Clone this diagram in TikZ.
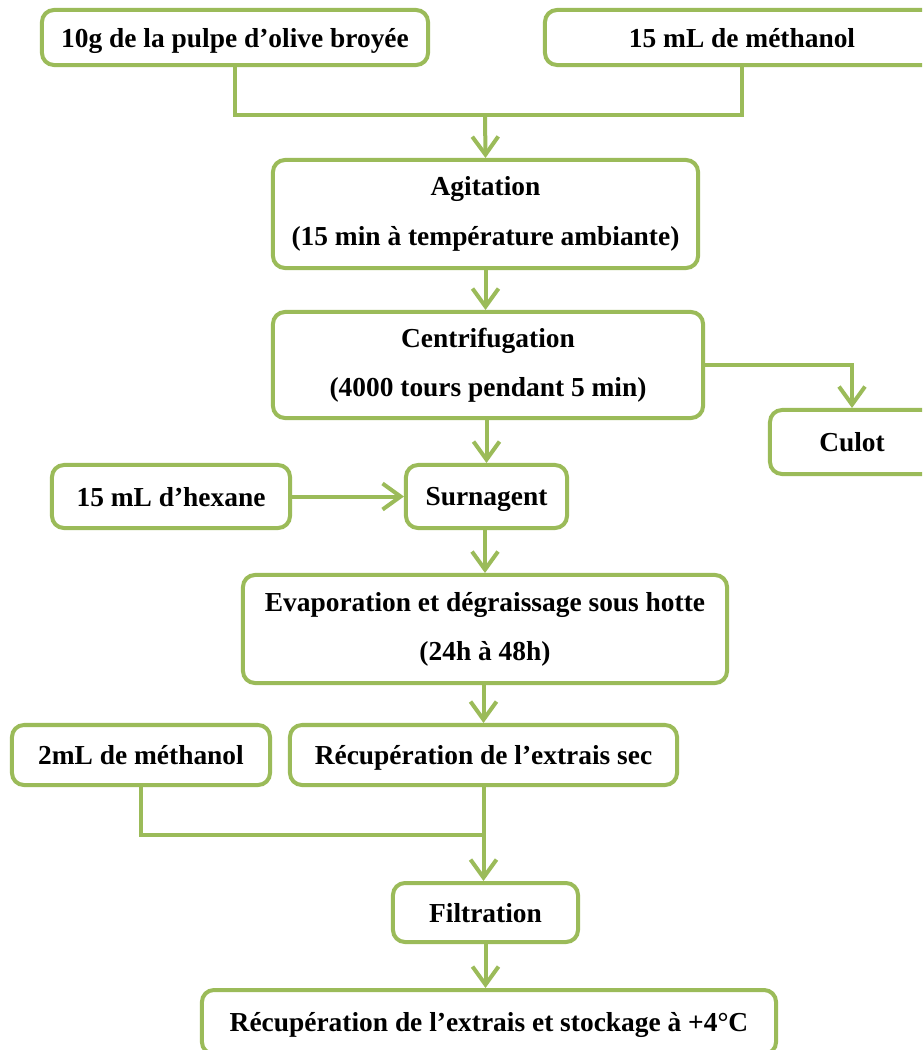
\documentclass[tikz,border=0pt]{standalone}
\usepackage{fontspec}
\setmainfont{Liberation Serif}
\usepackage{tikz}
\usetikzlibrary{positioning, arrows.meta}
\definecolor{olivegreen}{HTML}{9BBB59}

\begin{document}
\begin{tikzpicture}[
                x=0.025cm, y=-0.025cm,
                box/.style={rectangle, rounded corners=0.3cm, draw=olivegreen, line width=0.1cm, fill=white,
                    align=center, inner sep=0pt, font=\fontsize{19.5}{35}\selectfont\bfseries},
                single/.style={box, text depth=0pt},
                link/.style={draw=olivegreen, line width=0.1cm},
                flow/.style={link, -{Straight Barb[length=0.45cm, width=0.65cm, line width=0.1cm]}}
            ]
                \useasboundingbox (0,0) rectangle (922,1050);
                \clip (0,0) rectangle (922,1050);

                % matieres de depart
                \node[single, minimum width=9.65cm, minimum height=1.375cm] (olive) at (235,37.5) {10g de la pulpe d'olive broyée};
                \node[single, minimum width=9.85cm, minimum height=1.375cm] (meth) at (742,37.5) {15 mL de méthanol};
                \coordinate (j1) at (485,115);

                % etapes principales
                \node[box, minimum width=10.625cm, minimum height=2.7cm] (agit) at (485.5,214) {Agitation\\(15 min à température ambiante)};
                \node[box, minimum width=10.75cm, minimum height=2.65cm] (centri) at (488,365) {Centrifugation\\(4000 tours pendant 5 min)};
                \node[single, minimum width=4.1cm, minimum height=1.6cm] (culot) at (852,442) {Culot};
                \node[single, minimum width=5.95cm, minimum height=1.575cm] (hex) at (171,496.5) {15 mL d'hexane};
                \node[single, minimum width=4.025cm, minimum height=1.575cm] (surn) at (486.5,496.5) {Surnagent};
                \node[box, minimum width=12.1cm, minimum height=2.7cm] (evap) at (485,629) {Evaporation et dégraissage sous hotte\\(24h à 48h)};
                \node[single, minimum width=6.45cm, minimum height=1.5cm] (meth2) at (141,755) {2mL de méthanol};
                \node[single, minimum width=9.675cm, minimum height=1.5cm] (recsec) at (483.5,755) {Récupération de l'extrais sec};
                \coordinate (j2) at (483.5,835);
                \node[single, minimum width=4.625cm, minimum height=1.475cm] (filt) at (485.5,912.5) {Filtration};
                \node[single, minimum width=14.35cm, minimum height=1.6cm] (final) at (489,1022) {Récupération de l'extrais et stockage à +4°C};

                % liaisons
                \draw[link] (olive.south) |- (j1);
                \draw[link] (meth.south) |- (j1);
                \draw[flow] (j1) -- (agit.north);
                \draw[flow] (agit.south) -- (agit.south |- centri.north);
                \draw[flow] (centri.east) -| (culot.north);
                \draw[flow] (centri.south -| surn.north) -- (surn.north);
                \draw[flow] (hex.east) -- (surn.west);
                \draw[flow] (surn.south -| evap.north) -- (evap.north);
                \draw[flow] (evap.south -| recsec.north) -- (recsec.north);
                \draw[link] (meth2.south) |- (j2);
                \draw[flow] (recsec.south) -- (recsec.south |- filt.north);
                \draw[flow] (filt.south) -- (filt.south |- final.north);

            \end{tikzpicture}
\end{document}
